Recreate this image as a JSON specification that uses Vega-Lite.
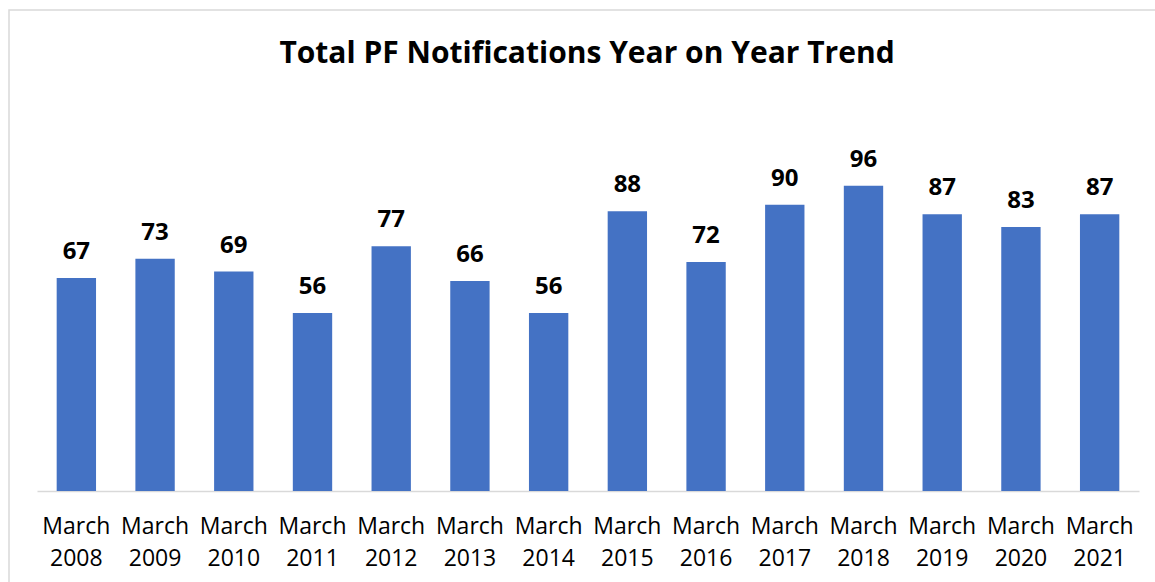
{
  "$schema": "https://vega.github.io/schema/vega-lite/v6.json",
  "autosize": "none",
  "width": 1200,
  "height": 600,
  "padding": {"left": 9, "top": 10, "right": 0, "bottom": 0},
  "background": "white",
  "config": {
    "view": {"stroke": "#d9d9d9", "strokeWidth": 1.5},
    "font": "Open Sans"
  },
  "title": {
    "text": "Total PF Notifications Year on Year Trend",
    "font": "Open Sans",
    "fontSize": 30,
    "fontWeight": "bold",
    "color": "#000000",
    "anchor": "middle",
    "baseline": "alphabetic",
    "offset": -83,
    "dx": -22
  },
  "data": {
    "values": [
      {"label": "March 2008", "value": 67},
      {"label": "March 2009", "value": 73},
      {"label": "March 2010", "value": 69},
      {"label": "March 2011", "value": 56},
      {"label": "March 2012", "value": 77},
      {"label": "March 2013", "value": 66},
      {"label": "March 2014", "value": 56},
      {"label": "March 2015", "value": 88},
      {"label": "March 2016", "value": 72},
      {"label": "March 2017", "value": 90},
      {"label": "March 2018", "value": 96},
      {"label": "March 2019", "value": 87},
      {"label": "March 2020", "value": 83},
      {"label": "March 2021", "value": 87}
    ]
  },
  "encoding": {
    "x": {
      "field": "label",
      "type": "nominal",
      "sort": null,
      "scale": {"range": [28, 1130], "paddingInner": 0.5, "paddingOuter": 0.25},
      "axis": {
        "title": null,
        "orient": "bottom",
        "offset": -119,
        "labelAngle": 0,
        "labelExpr": "split(datum.label, ' ')",
        "labelFont": "Open Sans",
        "labelFontSize": 23,
        "labelColor": "#000000",
        "labelLineHeight": 32,
        "labelBaseline": "alphabetic",
        "labelPadding": 42,
        "ticks": false,
        "grid": false,
        "domainColor": "#d9d9d9",
        "domainWidth": 1.5,
        "labelOverlap": false,
        "labelBound": false
      }
    },
    "y": {
      "field": "value",
      "type": "quantitative",
      "scale": {"domain": [0, 120], "range": [481, 99.4], "nice": false, "zero": true},
      "axis": null
    }
  },
  "layer": [
    {"mark": {"type": "bar", "color": "#4472C4"}},
    {
      "mark": {
        "type": "text",
        "font": "Open Sans",
        "fontSize": 24,
        "fontWeight": "bold",
        "color": "#000000",
        "baseline": "alphabetic",
        "align": "center",
        "dy": -19
      },
      "encoding": {"text": {"field": "value", "type": "quantitative"}}
    }
  ]
}
